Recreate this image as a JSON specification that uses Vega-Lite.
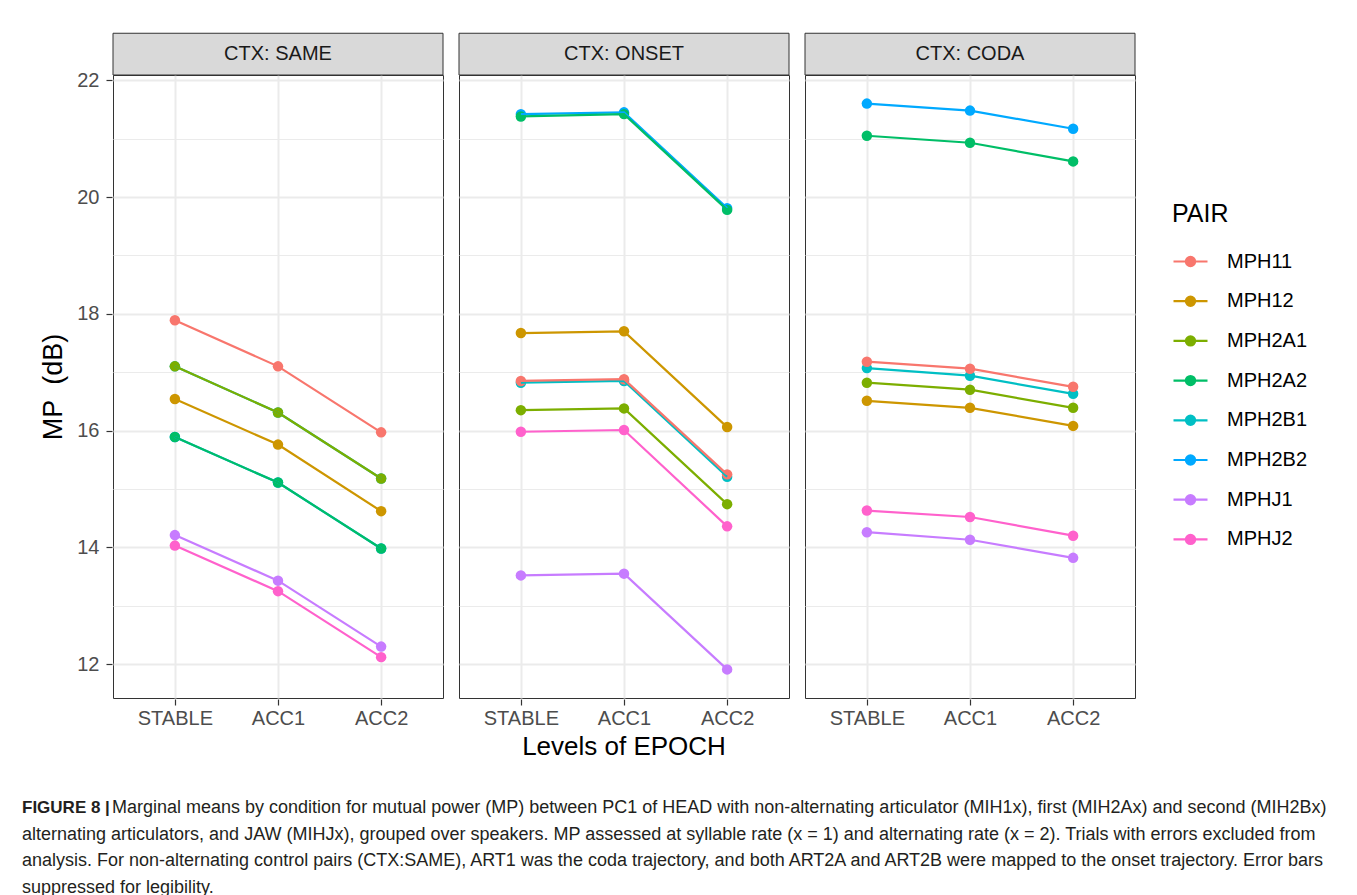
{
  "$schema": "https://vega.github.io/schema/vega-lite/v6.json",
  "padding": {"left": 22, "top": 32, "right": 0, "bottom": 0},
  "background": "white",
  "config": {
    "font": "Liberation Sans",
    "view": {"stroke": "#333333", "strokeWidth": 1},
    "axis": {
      "labelFont": "Liberation Sans", "labelFontSize": 20, "labelColor": "#4D4D4D",
      "tickColor": "#333333", "tickSize": 6, "tickWidth": 1.2, "domain": false,
      "gridColor": "#EBEBEB", "gridWidth": 2,
      "titleFont": "Liberation Sans", "titleFontSize": 26, "titleColor": "#000000", "titleFontWeight": "normal"
    }
  },
  "spacing": 39,
  "resolve": {"legend": {"color": "independent"}, "scale": {"color": "independent"}},
  "vconcat": [
    {
      "data": {"values": [
        {"CTX": "CTX: SAME", "PAIR": "MPH2B1", "EPOCH": "STABLE", "MP": 17.10},
        {"CTX": "CTX: SAME", "PAIR": "MPH2B1", "EPOCH": "ACC1", "MP": 16.31},
        {"CTX": "CTX: SAME", "PAIR": "MPH2B1", "EPOCH": "ACC2", "MP": 15.18},
        {"CTX": "CTX: SAME", "PAIR": "MPH2B2", "EPOCH": "STABLE", "MP": 15.89},
        {"CTX": "CTX: SAME", "PAIR": "MPH2B2", "EPOCH": "ACC1", "MP": 15.11},
        {"CTX": "CTX: SAME", "PAIR": "MPH2B2", "EPOCH": "ACC2", "MP": 13.98},
        {"CTX": "CTX: SAME", "PAIR": "MPH11", "EPOCH": "STABLE", "MP": 17.89},
        {"CTX": "CTX: SAME", "PAIR": "MPH11", "EPOCH": "ACC1", "MP": 17.10},
        {"CTX": "CTX: SAME", "PAIR": "MPH11", "EPOCH": "ACC2", "MP": 15.97},
        {"CTX": "CTX: SAME", "PAIR": "MPH12", "EPOCH": "STABLE", "MP": 16.54},
        {"CTX": "CTX: SAME", "PAIR": "MPH12", "EPOCH": "ACC1", "MP": 15.76},
        {"CTX": "CTX: SAME", "PAIR": "MPH12", "EPOCH": "ACC2", "MP": 14.62},
        {"CTX": "CTX: SAME", "PAIR": "MPH2A1", "EPOCH": "STABLE", "MP": 17.10},
        {"CTX": "CTX: SAME", "PAIR": "MPH2A1", "EPOCH": "ACC1", "MP": 16.31},
        {"CTX": "CTX: SAME", "PAIR": "MPH2A1", "EPOCH": "ACC2", "MP": 15.18},
        {"CTX": "CTX: SAME", "PAIR": "MPH2A2", "EPOCH": "STABLE", "MP": 15.89},
        {"CTX": "CTX: SAME", "PAIR": "MPH2A2", "EPOCH": "ACC1", "MP": 15.11},
        {"CTX": "CTX: SAME", "PAIR": "MPH2A2", "EPOCH": "ACC2", "MP": 13.98},
        {"CTX": "CTX: SAME", "PAIR": "MPHJ1", "EPOCH": "STABLE", "MP": 14.21},
        {"CTX": "CTX: SAME", "PAIR": "MPHJ1", "EPOCH": "ACC1", "MP": 13.43},
        {"CTX": "CTX: SAME", "PAIR": "MPHJ1", "EPOCH": "ACC2", "MP": 12.30},
        {"CTX": "CTX: SAME", "PAIR": "MPHJ2", "EPOCH": "STABLE", "MP": 14.03},
        {"CTX": "CTX: SAME", "PAIR": "MPHJ2", "EPOCH": "ACC1", "MP": 13.25},
        {"CTX": "CTX: SAME", "PAIR": "MPHJ2", "EPOCH": "ACC2", "MP": 12.12},

        {"CTX": "CTX: ONSET", "PAIR": "MPH2B1", "EPOCH": "STABLE", "MP": 16.82},
        {"CTX": "CTX: ONSET", "PAIR": "MPH2B1", "EPOCH": "ACC1", "MP": 16.85},
        {"CTX": "CTX: ONSET", "PAIR": "MPH2B1", "EPOCH": "ACC2", "MP": 15.21},
        {"CTX": "CTX: ONSET", "PAIR": "MPH2B2", "EPOCH": "STABLE", "MP": 21.42},
        {"CTX": "CTX: ONSET", "PAIR": "MPH2B2", "EPOCH": "ACC1", "MP": 21.45},
        {"CTX": "CTX: ONSET", "PAIR": "MPH2B2", "EPOCH": "ACC2", "MP": 19.81},
        {"CTX": "CTX: ONSET", "PAIR": "MPH11", "EPOCH": "STABLE", "MP": 16.85},
        {"CTX": "CTX: ONSET", "PAIR": "MPH11", "EPOCH": "ACC1", "MP": 16.88},
        {"CTX": "CTX: ONSET", "PAIR": "MPH11", "EPOCH": "ACC2", "MP": 15.25},
        {"CTX": "CTX: ONSET", "PAIR": "MPH12", "EPOCH": "STABLE", "MP": 17.67},
        {"CTX": "CTX: ONSET", "PAIR": "MPH12", "EPOCH": "ACC1", "MP": 17.70},
        {"CTX": "CTX: ONSET", "PAIR": "MPH12", "EPOCH": "ACC2", "MP": 16.06},
        {"CTX": "CTX: ONSET", "PAIR": "MPH2A1", "EPOCH": "STABLE", "MP": 16.35},
        {"CTX": "CTX: ONSET", "PAIR": "MPH2A1", "EPOCH": "ACC1", "MP": 16.38},
        {"CTX": "CTX: ONSET", "PAIR": "MPH2A1", "EPOCH": "ACC2", "MP": 14.74},
        {"CTX": "CTX: ONSET", "PAIR": "MPH2A2", "EPOCH": "STABLE", "MP": 21.38},
        {"CTX": "CTX: ONSET", "PAIR": "MPH2A2", "EPOCH": "ACC1", "MP": 21.42},
        {"CTX": "CTX: ONSET", "PAIR": "MPH2A2", "EPOCH": "ACC2", "MP": 19.78},
        {"CTX": "CTX: ONSET", "PAIR": "MPHJ1", "EPOCH": "STABLE", "MP": 13.52},
        {"CTX": "CTX: ONSET", "PAIR": "MPHJ1", "EPOCH": "ACC1", "MP": 13.55},
        {"CTX": "CTX: ONSET", "PAIR": "MPHJ1", "EPOCH": "ACC2", "MP": 11.91},
        {"CTX": "CTX: ONSET", "PAIR": "MPHJ2", "EPOCH": "STABLE", "MP": 15.98},
        {"CTX": "CTX: ONSET", "PAIR": "MPHJ2", "EPOCH": "ACC1", "MP": 16.01},
        {"CTX": "CTX: ONSET", "PAIR": "MPHJ2", "EPOCH": "ACC2", "MP": 14.36},

        {"CTX": "CTX: CODA", "PAIR": "MPH2B1", "EPOCH": "STABLE", "MP": 17.07},
        {"CTX": "CTX: CODA", "PAIR": "MPH2B1", "EPOCH": "ACC1", "MP": 16.94},
        {"CTX": "CTX: CODA", "PAIR": "MPH2B1", "EPOCH": "ACC2", "MP": 16.63},
        {"CTX": "CTX: CODA", "PAIR": "MPH2B2", "EPOCH": "STABLE", "MP": 21.60},
        {"CTX": "CTX: CODA", "PAIR": "MPH2B2", "EPOCH": "ACC1", "MP": 21.48},
        {"CTX": "CTX: CODA", "PAIR": "MPH2B2", "EPOCH": "ACC2", "MP": 21.17},
        {"CTX": "CTX: CODA", "PAIR": "MPH11", "EPOCH": "STABLE", "MP": 17.18},
        {"CTX": "CTX: CODA", "PAIR": "MPH11", "EPOCH": "ACC1", "MP": 17.06},
        {"CTX": "CTX: CODA", "PAIR": "MPH11", "EPOCH": "ACC2", "MP": 16.75},
        {"CTX": "CTX: CODA", "PAIR": "MPH12", "EPOCH": "STABLE", "MP": 16.51},
        {"CTX": "CTX: CODA", "PAIR": "MPH12", "EPOCH": "ACC1", "MP": 16.39},
        {"CTX": "CTX: CODA", "PAIR": "MPH12", "EPOCH": "ACC2", "MP": 16.08},
        {"CTX": "CTX: CODA", "PAIR": "MPH2A1", "EPOCH": "STABLE", "MP": 16.82},
        {"CTX": "CTX: CODA", "PAIR": "MPH2A1", "EPOCH": "ACC1", "MP": 16.70},
        {"CTX": "CTX: CODA", "PAIR": "MPH2A1", "EPOCH": "ACC2", "MP": 16.39},
        {"CTX": "CTX: CODA", "PAIR": "MPH2A2", "EPOCH": "STABLE", "MP": 21.05},
        {"CTX": "CTX: CODA", "PAIR": "MPH2A2", "EPOCH": "ACC1", "MP": 20.93},
        {"CTX": "CTX: CODA", "PAIR": "MPH2A2", "EPOCH": "ACC2", "MP": 20.61},
        {"CTX": "CTX: CODA", "PAIR": "MPHJ1", "EPOCH": "STABLE", "MP": 14.26},
        {"CTX": "CTX: CODA", "PAIR": "MPHJ1", "EPOCH": "ACC1", "MP": 14.13},
        {"CTX": "CTX: CODA", "PAIR": "MPHJ1", "EPOCH": "ACC2", "MP": 13.82},
        {"CTX": "CTX: CODA", "PAIR": "MPHJ2", "EPOCH": "STABLE", "MP": 14.63},
        {"CTX": "CTX: CODA", "PAIR": "MPHJ2", "EPOCH": "ACC1", "MP": 14.52},
        {"CTX": "CTX: CODA", "PAIR": "MPHJ2", "EPOCH": "ACC2", "MP": 14.20}
      ]},
      "facet": {
        "column": {
          "field": "CTX", "type": "nominal",
          "sort": ["CTX: SAME", "CTX: ONSET", "CTX: CODA"],
          "header": {
            "labels": false, "title": "Levels of EPOCH", "titleOrient": "bottom",
            "titleFont": "Liberation Sans", "titleFontSize": 26, "titleFontWeight": "normal",
            "titleColor": "#000000", "titlePadding": -4
          }
        }
      },
      "spacing": 14,
      "spec": {
        "width": 330,
        "height": 623,
        "resolve": {"axis": {"y": "independent"}},
        "layer": [
          {
            "transform": [{"filter": "datum.PAIR == 'MPH11' && datum.EPOCH == 'ACC1'"}],
            "mark": {"type": "rect", "fill": "#D9D9D9", "stroke": "#333333", "strokeWidth": 1, "clip": false},
            "encoding": {
              "x": {"value": 0},
              "x2": {"value": "width"},
              "y": {"datum": 22.09, "type": "quantitative", "scale": {"domain": [11.42, 22.09], "nice": false, "zero": false}, "axis": null},
              "y2": {"datum": 22.805}
            }
          },
          {
            "transform": [{"filter": "datum.PAIR == 'MPH11' && datum.EPOCH == 'ACC1'"}],
            "mark": {"type": "text", "fontSize": 20, "color": "#1A1A1A", "baseline": "middle", "align": "center", "clip": false},
            "encoding": {
              "x": {"field": "EPOCH", "type": "ordinal", "sort": ["STABLE", "ACC1", "ACC2"],
                    "scale": {"type": "point", "padding": 0.6},
                    "axis": {"title": null, "labelAngle": 0, "grid": true, "labelPadding": 3, "tickSize": 6}},
              "y": {"datum": 22.45, "type": "quantitative", "axis": null},
              "text": {"field": "CTX"}
            }
          },
          {
            "mark": {"type": "point", "filled": true, "size": 110, "opacity": 1},
            "encoding": {
              "x": {"field": "EPOCH", "type": "ordinal", "sort": ["STABLE", "ACC1", "ACC2"],
                    "scale": {"type": "point", "padding": 0.6},
                    "axis": {"title": null, "labelAngle": 0, "grid": true, "labelPadding": 3, "tickSize": 6}},
              "y": {"field": "MP", "type": "quantitative",
                    "axis": {"orient": "left", "values": [13, 15, 17, 19, 21], "grid": true, "gridWidth": 1.1, "labels": false, "ticks": false, "title": null}},
              "color": {"field": "PAIR", "type": "nominal",
                        "scale": {"domain": ["MPH11", "MPH12", "MPH2A1", "MPH2A2", "MPH2B1", "MPH2B2", "MPHJ1", "MPHJ2"],
                                  "range": ["#F8766D", "#CD9600", "#7CAE00", "#00BE67", "#00BFC4", "#00A9FF", "#C77CFF", "#FF61CC"]}}
            }
          },
          {
            "mark": {"type": "line", "strokeWidth": 2.2},
            "encoding": {
              "x": {"field": "EPOCH", "type": "ordinal", "sort": ["STABLE", "ACC1", "ACC2"],
                    "scale": {"type": "point", "padding": 0.6},
                    "axis": {"title": null, "labelAngle": 0, "grid": true, "labelPadding": 3, "tickSize": 6}},
              "y": {"field": "MP", "type": "quantitative",
                    "axis": {"orient": "left", "values": [12, 14, 16, 18, 20, 22], "title": "MP\u00a0 (dB)", "titleFontSize": 27, "labelPadding": 7, "titlePadding": 9, "grid": true}},
              "color": {"field": "PAIR", "type": "nominal",
                        "scale": {"domain": ["MPH11", "MPH12", "MPH2A1", "MPH2A2", "MPH2B1", "MPH2B2", "MPHJ1", "MPHJ2"],
                                  "range": ["#F8766D", "#CD9600", "#7CAE00", "#00BE67", "#00BFC4", "#00A9FF", "#C77CFF", "#FF61CC"]},
                        "legend": {
                          "orient": "none", "legendX": 1059, "legendY": 127,
                          "title": "PAIR", "titleFont": "Liberation Sans", "titleFontSize": 25, "titleFontWeight": "normal", "titleColor": "#000000", "titlePadding": 16,
                          "labelFont": "Liberation Sans", "labelFontSize": 20, "labelColor": "#000000", "labelOffset": 18,
                          "symbolType": "M-1,0L1,0M-0.27,0A0.27,0.27,0,1,1,0.27,0A0.27,0.27,0,1,1,-0.27,0Z",
                          "symbolSize": 1156, "symbolStrokeWidth": 2.2, "rowPadding": 10.7,
                          "encode": {"symbols": {"update": {"fill": {"scale": "color", "field": "value"}, "stroke": {"scale": "color", "field": "value"}, "opacity": {"value": 1}}}}
                        }}
            }
          }
        ]
      }
    },
    {
      "data": {"values": [
        {"line": 1, "part": "head", "text": "FIGURE 8 |"},
        {"line": 1, "part": "body", "text": "Marginal means by condition for mutual power (MP) between PC1 of HEAD with non-alternating articulator (MIH1x), first (MIH2Ax) and second (MIH2Bx)"},
        {"line": 2, "part": "body", "text": "alternating articulators, and JAW (MIHJx), grouped over speakers. MP assessed at syllable rate (x = 1) and alternating rate (x = 2). Trials with errors excluded from"},
        {"line": 3, "part": "body", "text": "analysis. For non-alternating control pairs (CTX:SAME), ART1 was the coda trajectory, and both ART2A and ART2B were mapped to the onset trajectory. Error bars"},
        {"line": 4, "part": "body", "text": "suppressed for legibility."}
      ]},
      "width": 1000,
      "height": 80,
      "view": {"stroke": null},
      "layer": [
        {
          "transform": [{"filter": "datum.part == 'head'"}],
          "mark": {"type": "text", "align": "left", "baseline": "middle", "fontSize": 17, "fontWeight": "bold", "color": "#231F20", "dx": -91},
          "encoding": {
            "x": {"value": 0},
            "y": {"field": "line", "type": "ordinal", "scale": {"type": "point", "padding": 0}, "axis": null},
            "text": {"field": "text"}
          }
        },
        {
          "transform": [{"filter": "datum.part == 'body' && datum.line == 1"}],
          "mark": {"type": "text", "align": "left", "baseline": "middle", "fontSize": 18, "color": "#231F20", "dx": -1},
          "encoding": {
            "x": {"value": 0},
            "y": {"field": "line", "type": "ordinal", "scale": {"type": "point", "padding": 0}, "axis": null},
            "text": {"field": "text"}
          }
        },
        {
          "transform": [{"filter": "datum.line > 1"}],
          "mark": {"type": "text", "align": "left", "baseline": "middle", "fontSize": 18, "color": "#231F20", "dx": -91},
          "encoding": {
            "x": {"value": 0},
            "y": {"field": "line", "type": "ordinal", "scale": {"type": "point", "padding": 0}, "axis": null},
            "text": {"field": "text"}
          }
        }
      ]
    }
  ]
}
